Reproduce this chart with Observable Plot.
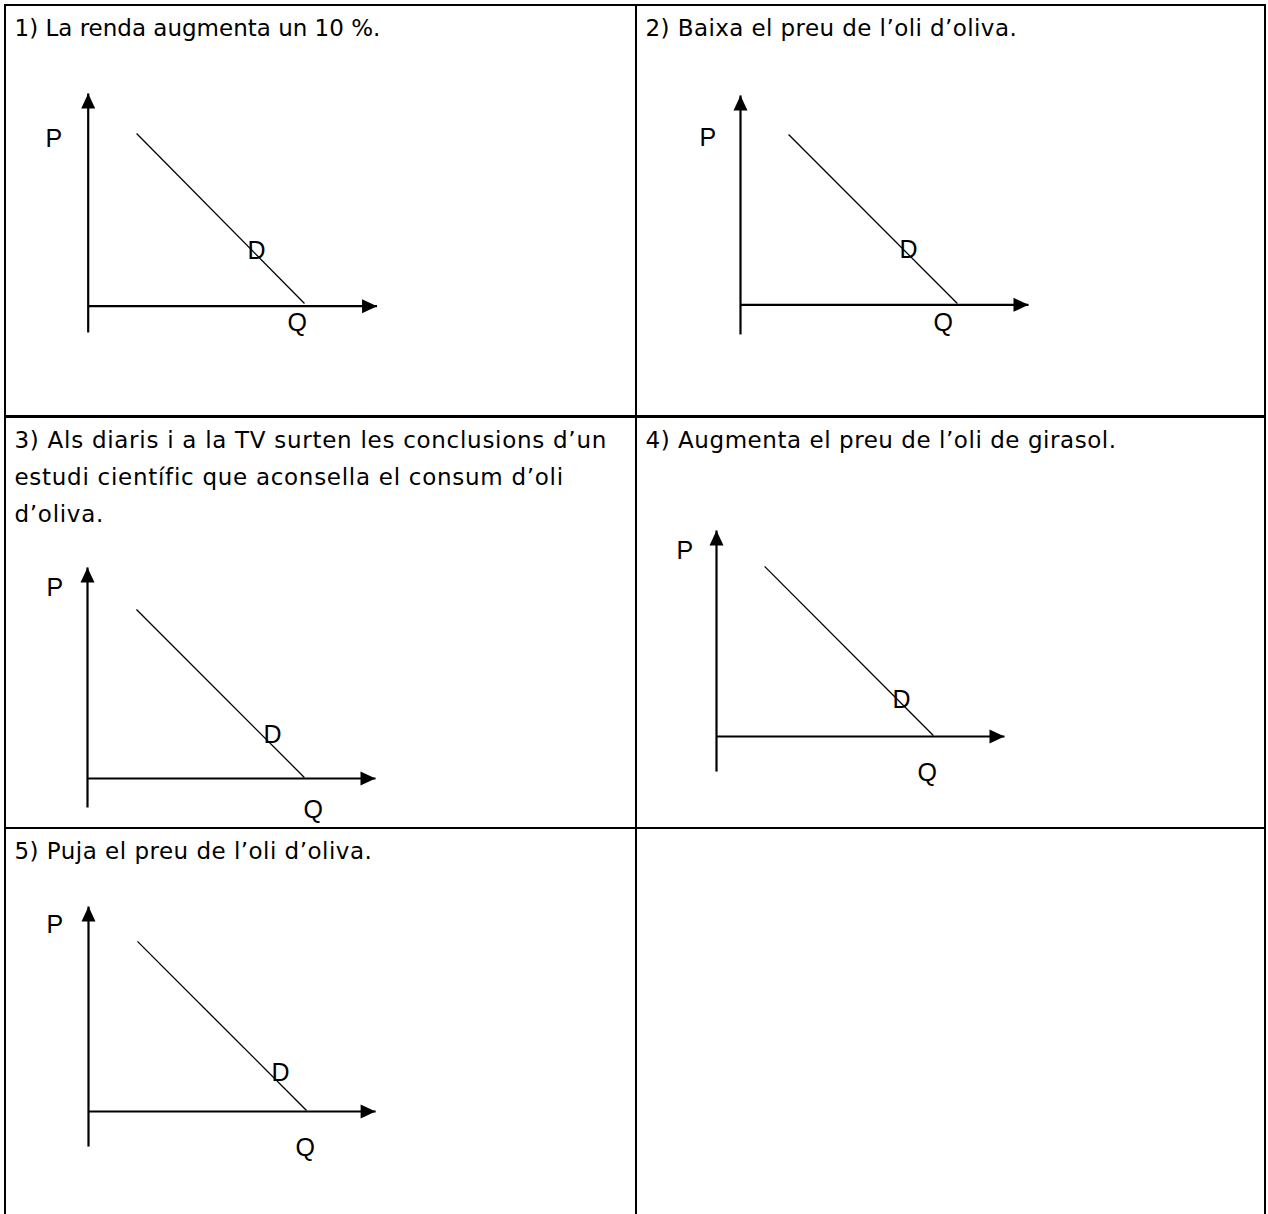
<!DOCTYPE html>
<html>
<head>
<meta charset="utf-8">
<script src="https://cdn.jsdelivr.net/npm/d3@7"></script>
<script src="https://cdn.jsdelivr.net/npm/@observablehq/plot@0.6"></script>
<style>
  html, body { margin: 0; padding: 0; background: #fff; }
  #page { position: relative; width: 1268px; height: 1214px; overflow: hidden; background: #fff; }
  .cell { position: absolute; box-sizing: border-box; border: 2px solid #000; z-index: 2; pointer-events: none; }
  .panel { position: absolute; z-index: 1; }
</style>
</head>
<body>
<div id="page"></div>
<script>
// ---------------- DATA ----------------
const titles = [
  "1) La renda augmenta un 10 %.",
  "2) Baixa el preu de l’oli d’oliva.",
  "3) Als diaris i a la TV surten les conclusions d’un\nestudi científic que aconsella el consum d’oli\nd’oliva.",
  "4) Augmenta el preu de l’oli de girasol.",
  "5) Puja el preu de l’oli d’oliva."
];
// demand curve D: from (q1, p1) down to (q2, p2), in diagram units
const demandQ1 = [1.68, 1.67, 1.70, 1.67, 1.70];
const demandP1 = [8.22, 8.11, 8.05, 8.10, 8.10];
const demandQ2 = [7.51, 7.53, 7.53, 7.53, 7.57];
const demandP2 = [0.13, 0.06, 0.05, 0.05, 0.05];
// axes extents (arrow tips and the lower end of the P axis)
const axisQmax = [10.03, 10.0, 10.0, 10.0, 9.97];
const axisPmax = [10.13, 9.97, 10.05, 9.81, 9.76];
const axisPmin = [-1.25, -1.41, -1.38, -1.67, -1.67];
// labels
const axisLabels = ["P", "D", "Q"];
const labelQ = [[-1.48, 5.53, 6.92], [-1.42, 5.52, 6.70], [-1.42, 6.11, 7.50], [-1.39, 6.11, 6.98], [-1.46, 6.35, 7.19]];
const labelP = [[7.58, 2.27, -1.20], [7.54, 2.25, -1.27], [8.71, 1.67, -1.90], [8.43, 1.38, -2.14], [8.52, 1.43, -2.10]];

// ---------------- LAYOUT / STYLE ----------------
const colX = [5, 636];
const rowY = [5, 417, 828];
const cellW = [631, 629];
const cellH = 411;
const cellPos = [[0, 0], [1, 0], [0, 1], [1, 1], [0, 2]];
const originOffset = [[82.7, 300.7], [104, 299.3], [82, 361], [80, 319], [83, 283]];
const titleSpacing = [0, 0.42, 0.72, 0.55, 0.48];
const pxPerQ = 28.8, pxPerP = 21;
const borderW = 2;

const page = document.getElementById("page");

// table borders (6 cells, last one empty)
const allCells = [[0, 0], [1, 0], [0, 1], [1, 1], [0, 2], [1, 2]];
for (const [c, r] of allCells) {
  const d = document.createElement("div");
  d.className = "cell";
  d.style.left = (colX[c] - borderW / 2) + "px";
  d.style.top = (rowY[r] - borderW / 2) + "px";
  d.style.width = (cellW[c] + borderW) + "px";
  d.style.height = (cellH + borderW) + "px";
  page.appendChild(d);
}

// arrowhead symbol (tip at origin, pointing up)
const arrowHead = {
  draw(ctx) {
    ctx.moveTo(0, 0);
    ctx.lineTo(7, 15);
    ctx.lineTo(-7, 15);
    ctx.closePath();
  }
};

function panel(i) {
  const [c, r] = cellPos[i];
  const W = cellW[c], H = cellH;
  const [ox, oy] = originOffset[i];
  const axes = [
    {x1: 0, y1: axisPmin[i], x2: 0, y2: axisPmax[i]},
    {x1: 0, y1: 0, x2: axisQmax[i], y2: 0}
  ];
  const heads = [
    {x: 0, y: axisPmax[i], rot: 0},
    {x: axisQmax[i], y: 0, rot: 90}
  ];
  const demand = [{x1: demandQ1[i], y1: demandP1[i], x2: demandQ2[i], y2: demandP2[i]}];
  const labels = axisLabels.map((t, k) => ({t, q: labelQ[i][k], p: labelP[i][k]}));

  const svg = Plot.plot({
    width: W,
    height: H,
    margin: 0,
    x: {domain: [-ox / pxPerQ, (W - ox) / pxPerQ], range: [0, W], axis: null},
    y: {domain: [-(H - oy) / pxPerP, oy / pxPerP], range: [H, 0], axis: null},
    style: {background: "transparent", overflow: "visible", fontFamily: "'DejaVu Sans', sans-serif", color: "black"},
    marks: [
      Plot.text([titles[i]], {
        frameAnchor: "top-left", text: d => d, dx: 9, dy: 3.4,
        textAnchor: "start", lineAnchor: "top", lineHeight: 1.63,
        fontSize: 23, fontFamily: "DejaVu Sans", fill: "black"
      }),
      Plot.link(axes, {x1: "x1", y1: "y1", x2: "x2", y2: "y2", stroke: "black", strokeWidth: 2.2}),
      Plot.dot(heads, {x: "x", y: "y", rotate: "rot", symbol: arrowHead, r: 5, fill: "black", stroke: "none"}),
      Plot.link(demand, {x1: "x1", y1: "y1", x2: "x2", y2: "y2", stroke: "black", strokeWidth: 1.3}),
      Plot.text(labels, {
        x: "q", y: "p", text: "t", textAnchor: "start", lineAnchor: "bottom",
        fontSize: 25, fontFamily: "Liberation Sans", fill: "black"
      })
    ]
  });
  const titleG = svg.querySelector('g[aria-label="text"]');
  if (titleG) titleG.style.letterSpacing = titleSpacing[i] + "px";
  svg.classList.add("panel");
  svg.style.position = "absolute";
  svg.style.left = colX[c] + "px";
  svg.style.top = rowY[r] + "px";
  page.appendChild(svg);
}

titles.forEach((_, i) => panel(i));
</script>
</body>
</html>
